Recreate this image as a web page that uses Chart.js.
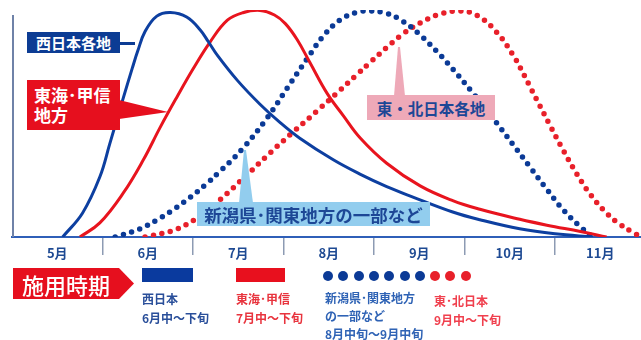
<!DOCTYPE html>
<html>
<head>
<meta charset="utf-8">
<script src="https://cdn.jsdelivr.net/npm/chart.js@4/dist/chart.umd.min.js"></script>
<style>
  html, body { margin: 0; padding: 0; background: #fff; }
  #wrap { position: relative; width: 641px; height: 340px; overflow: hidden;
          font-family: "Noto Sans CJK JP", "Noto Sans", sans-serif; }
  #c { position: absolute; left: 0; top: 0; }
  .abs { position: absolute; white-space: nowrap; }
  .box { display: flex; align-items: center; justify-content: center; font-weight: 700; }
  .leg { font-size: 12px; font-weight: 700; line-height: 19px; }
</style>
</head>
<body>
<div id="wrap">
  <canvas id="c" width="641" height="340"></canvas>

  <!-- callouts -->
  <div class="abs" style="left:119px;top:42px;width:16px;height:2.5px;background:#0c3c94;"></div>
  <div class="abs box" style="left:27px;top:32px;width:93px;height:21px;background:#0c3c94;color:#fff;font-size:15px;">西日本各地</div>

  <div class="abs" style="left:119px;top:100px;width:50px;height:20px;background:#e60f1e;clip-path:polygon(0 0,0 19px,49px 12px);"></div>
  <div class="abs" style="left:27px;top:80px;width:93px;height:50px;background:#e60f1e;color:#fff;font-size:17px;font-weight:700;line-height:20px;padding:5px 0 0 7px;box-sizing:border-box;">東海･甲信<br>地方</div>

  <div class="abs" style="left:237px;top:150px;width:18px;height:53px;background:#92cdee;clip-path:polygon(2px 53px,7px 0,9px 0,16px 53px);"></div>
  <div class="abs box" style="left:197px;top:202px;width:233px;height:24px;background:#92cdee;color:#1d4796;font-size:17.5px;">新潟県･関東地方の一部など</div>

  <div class="abs" style="left:392px;top:47px;width:16px;height:49px;background:#eea9b8;clip-path:polygon(2px 49px,6px 0,8px 0,13px 49px);"></div>
  <div class="abs box" style="left:367px;top:95px;width:128px;height:25px;background:#eea9b8;color:#1d4796;font-size:15.5px;">東・北日本各地</div>

  <!-- bottom legend -->
  <div class="abs box" style="left:13px;top:268px;width:121px;height:31px;background:#e60f1e;color:#fff;font-size:22px;font-weight:500;justify-content:flex-start;padding-left:9px;box-sizing:border-box;clip-path:polygon(0 0,106px 0,121px 15.5px,106px 31px,0 31px);">施用時期</div>

  <div class="abs" style="left:142px;top:268px;width:51px;height:14px;background:#0a3a9e;"></div>
  <div class="abs leg" style="left:142px;top:289px;color:#2a4f9a;">西日本<br>6月中〜下旬</div>

  <div class="abs" style="left:236px;top:268px;width:49px;height:14px;background:#e8101e;"></div>
  <div class="abs leg" style="left:236px;top:289px;color:#e8343e;">東海･甲信<br>7月中〜下旬</div>

  <div id="dots"></div>
  <div class="abs leg" style="left:325px;top:289px;color:#2f63b5;line-height:18px;">新潟県･関東地方<br>の一部など<br>8月中旬〜9月中旬</div>
  <div class="abs leg" style="left:434px;top:291px;color:#f0404e;">東･北日本<br>9月中〜下旬</div>
</div>

<script>
// ---- data ----
const monthLabels = ['5月', '6月', '7月', '8月', '9月', '10月', '11月'];

const westX = [5.56, 5.78, 5.97, 6.08, 6.22, 6.33, 6.39, 6.47, 6.60, 6.75, 6.93, 7.08, 7.17, 7.27, 7.49, 7.74, 7.96, 8.18, 8.55, 8.85, 9.14, 9.43, 9.87, 10.17, 10.61, 11.0, 11.42];
const westY = [0, 10.6, 26.4, 41.0, 60.0, 74.5, 82.0, 90.5, 97.3, 98.9, 96.9, 91.2, 86.0, 80.0, 69.0, 58.5, 50.5, 43.5, 34.0, 27.6, 22.2, 17.6, 11.0, 7.6, 3.6, 1.4, 0];

const tokaiX = [5.75, 5.97, 6.23, 6.45, 6.64, 6.82, 7.00, 7.19, 7.38, 7.55, 7.74, 7.90, 8.02, 8.15, 8.29, 8.48, 8.66, 8.85, 9.14, 9.51, 9.87, 10.17, 10.61, 10.91, 11.28, 11.57];
const tokaiY = [0, 6.2, 19.4, 33.9, 48.5, 61.5, 74.0, 86.0, 95.5, 98.8, 99.8, 97.8, 94.0, 87.0, 77.0, 63.4, 53.5, 43.5, 32.5, 22.5, 16.0, 12.2, 7.8, 5.2, 2.4, 0];

const kantoX = [6.14, 6.41, 6.60, 6.78, 6.97, 7.15, 7.30, 7.55, 7.82, 8.04, 8.26, 8.44, 8.62, 8.81, 8.96, 9.14, 9.32, 9.51, 9.70, 9.87, 10.08, 10.36, 10.54, 10.72, 10.91, 11.09, 11.28, 11.41];
const kantoY = [0, 3.5, 7.5, 12.0, 17.5, 23.5, 29.0, 39.0, 52.5, 65.5, 78.5, 88.5, 95.5, 99.0, 99.6, 98.5, 95.0, 89.0, 81.5, 74.0, 64.0, 50.0, 40.5, 31.0, 21.0, 12.0, 4.5, 0];

const northX = [6.47, 6.75, 6.93, 7.04, 7.30, 7.60, 7.85, 8.10, 8.37, 8.62, 8.81, 8.96, 9.14, 9.32, 9.51, 9.70, 9.93, 10.14, 10.36, 10.54, 10.61, 10.72, 10.83, 10.94, 11.09, 11.24, 11.39, 11.57, 11.72, 11.86, 11.95];
const northY = [0, 2.5, 5.5, 8.3, 16.5, 27.5, 37.0, 46.0, 55.5, 64.5, 71.5, 77.0, 83.5, 89.5, 94.3, 97.8, 99.6, 97.6, 90.0, 80.0, 75.0, 66.5, 58.0, 49.5, 38.3, 27.8, 18.8, 10.5, 5.5, 2.0, 0];

const tickValues = [5.5, 6, 6.5, 7, 7.5, 8, 8.5, 9, 9.5, 10, 10.5, 11, 11.5];

const pts = (xs, ys) => xs.map((x, i) => ({ x: x, y: ys[i] }));

// legend dots
const dotWrap = document.getElementById('dots');
const dotColors = ['#0b3a96','#0b3a96','#0b3a96','#0b3a96','#0b3a96','#0b3a96','#0b3a96','#e8202a','#e8202a','#e8202a'];
dotColors.forEach((c, i) => {
  const d = document.createElement('div');
  d.className = 'abs';
  d.style.cssText = `left:${323 + i * 15.3}px;top:271px;width:10px;height:10px;border-radius:50%;background:${c};`;
  dotWrap.appendChild(d);
});

const yAxisLine = {
  id: 'yAxisLine',
  afterDraw(chart) {
    const ctx = chart.ctx, a = chart.chartArea;
    ctx.save();
    ctx.strokeStyle = '#6f82a8';
    ctx.lineWidth = 2;
    ctx.beginPath();
    ctx.moveTo(a.left + 1, 15);
    ctx.lineTo(a.left + 1, a.bottom);
    ctx.stroke();
    ctx.restore();
  }
};

const T = 0.4;
new Chart(document.getElementById('c'), {
  type: 'line',
  data: {
    datasets: [
      { label: '西日本', data: pts(westX, westY), borderColor: '#0d3fa0', borderWidth: 3, pointRadius: 0, tension: T },
      { label: '東海・甲信', data: pts(tokaiX, tokaiY), borderColor: '#e8141e', borderWidth: 3, pointRadius: 0, tension: T },
      { label: '新潟県・関東地方の一部など', data: pts(kantoX, kantoY), borderColor: '#0b3a96', borderWidth: 5.5, borderDash: [0, 8.6], borderCapStyle: 'round', pointRadius: 0, tension: T },
      { label: '東・北日本', data: pts(northX, northY), borderColor: '#e8202a', borderWidth: 5.5, borderDash: [0, 8.6], borderCapStyle: 'round', pointRadius: 0, tension: T }
    ]
  },
  options: {
    responsive: false,
    animation: false,
    layout: { padding: { left: 12, right: 0, top: 10, bottom: 0 } },
    plugins: { legend: { display: false }, tooltip: { enabled: false } },
    scales: {
      x: {
        type: 'linear',
        min: 5,
        max: 11.95,
        afterFit: s => { s.height = 103; },
        afterBuildTicks: s => { s.ticks = tickValues.map(v => ({ value: v })); },
        grid: {
          drawOnChartArea: false,
          drawTicks: true,
          tickLength: 18,
          lineWidth: 1.5,
          color: ctx => (ctx.tick && Number.isInteger(ctx.tick.value)) ? '#8d9bb3' : 'rgba(0,0,0,0)'
        },
        border: { display: true, color: '#2f5fb8', width: 2 },
        ticks: {
          autoSkip: false,
          maxRotation: 0,
          padding: -10,
          color: '#1e4a93',
          font: { family: '"Noto Sans CJK JP", sans-serif', size: 13, weight: 'bold' },
          callback: v => Number.isInteger(v) ? '' : monthLabels[Math.floor(v) - 5]
        }
      },
      y: { display: false, min: 0, max: 100 }
    }
  },
  plugins: [yAxisLine]
});
</script>
</body>
</html>
